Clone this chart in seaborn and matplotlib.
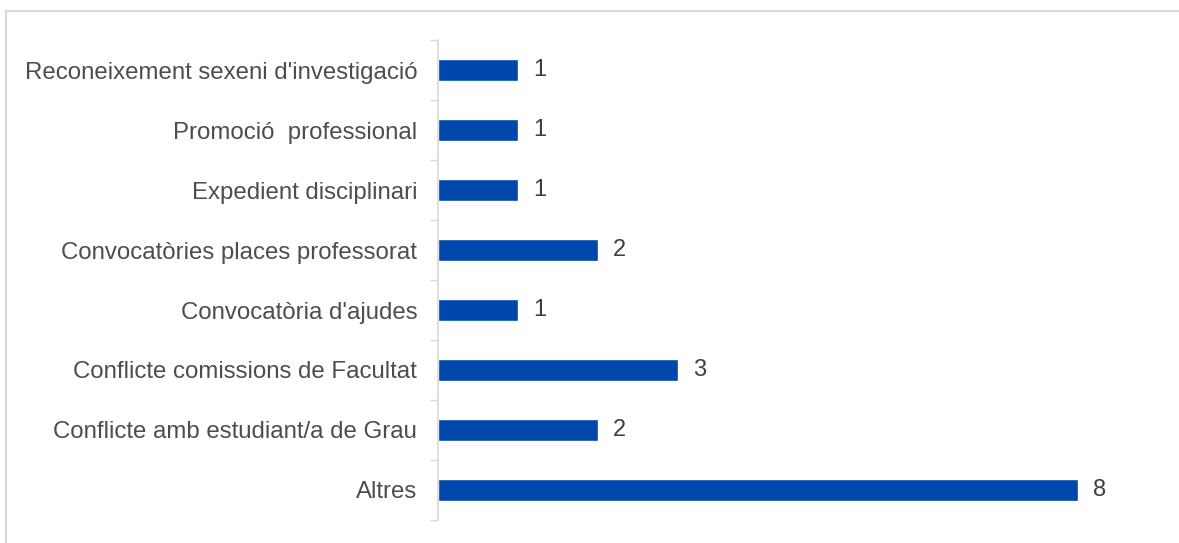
import numpy as np
import pandas as pd
import matplotlib
matplotlib.use("Agg")
import matplotlib.pyplot as plt
import seaborn as sns
from matplotlib.lines import Line2D

categories = [
    "Reconeixement sexeni d'investigació",
    "Promoció  professional",
    "Expedient disciplinari",
    "Convocatòries places professorat",
    "Convocatòria d'ajudes",
    "Conflicte comissions de Facultat",
    "Conflicte amb estudiant/a de Grau",
    "Altres",
]
values = [1, 1, 1, 2, 1, 3, 2, 8]

sns.set_theme(style="white")
plt.rcParams['font.family'] = ['Liberation Sans', 'DejaVu Sans']

df = pd.DataFrame({"Motiu": categories, "Casos": values})

fig = plt.figure(figsize=(11.79, 5.43), dpi=100)
ax = fig.add_axes([438 / 1179, 23 / 543, 720 / 1179, 480 / 543])

sns.barplot(data=df, x="Casos", y="Motiu", color="#0047AB", width=0.37,
            saturation=1, ax=ax)

ax.set_xlim(0, 9)
ax.set_ylim(len(categories) - 0.5, -0.5)
ax.set_xlabel("")
ax.set_ylabel("")
ax.set_xticks([])

# category separators on the axis
ax.set_yticks(np.arange(len(categories) + 1) - 0.5, minor=True)
ax.tick_params(axis="y", which="minor", length=6, width=1, color="#d9d9d9", left=True)
ax.tick_params(axis="y", which="major", length=0, pad=15, labelsize=17.3, labelcolor="#4d4d4d")

for side in ["top", "right", "bottom"]:
    ax.spines[side].set_visible(False)
ax.spines["left"].set_color("#d9d9d9")
ax.spines["left"].set_linewidth(1.2)

ax.bar_label(ax.containers[0], padding=11, fontsize=17, color="#404040")

# chart frame (top and left edges only visible)
top = 1 - 11 / 543
left = 6 / 1179
fig.lines.append(Line2D([left, 1.0], [top, top], transform=fig.transFigure,
                        color="#d9d9d9", linewidth=1.5))
fig.lines.append(Line2D([left, left], [0.0, top], transform=fig.transFigure,
                        color="#d9d9d9", linewidth=1.5))

fig.savefig("out.png", dpi=100)
